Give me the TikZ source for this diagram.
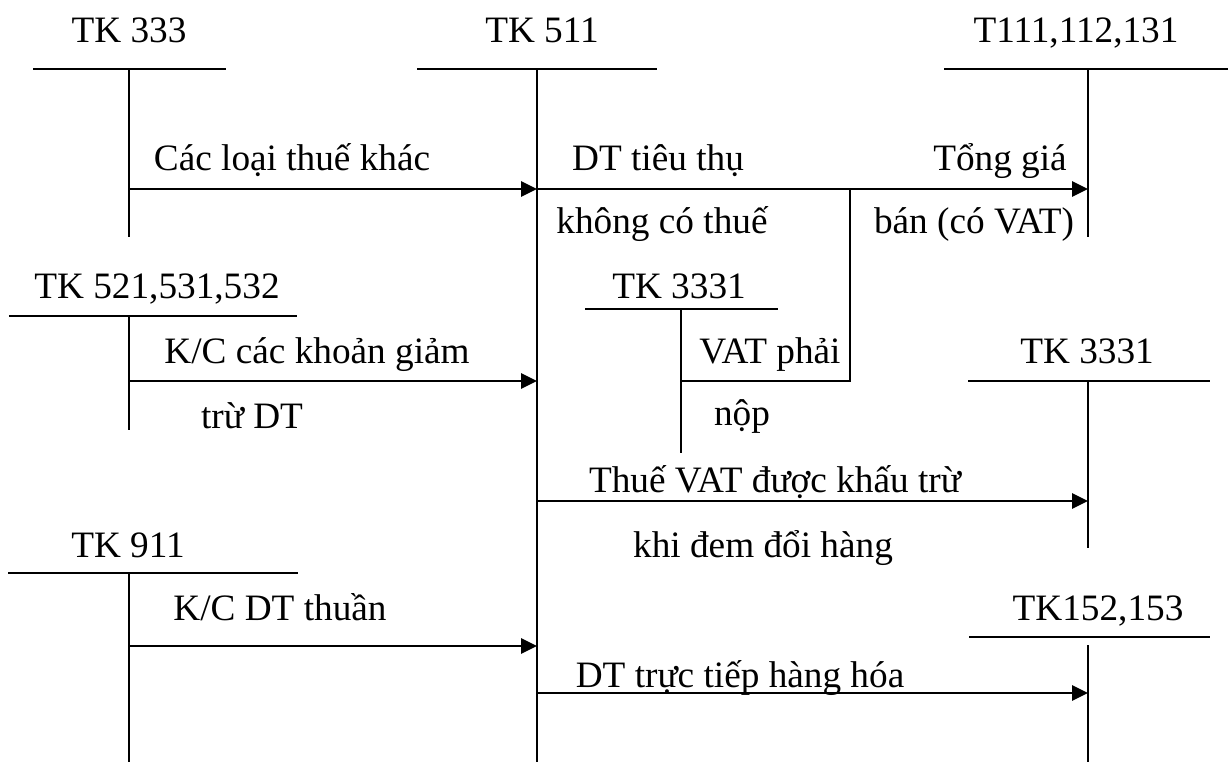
\documentclass[tikz,border=0pt]{standalone}
\usepackage{fontspec}
\setmainfont{Liberation Serif}
\usetikzlibrary{arrows.meta}

\tikzset{
  txt/.style={anchor=base, inner sep=0pt, font=\rmfamily\fontsize{10.6}{12}\selectfont},
  tk/.style={line width=0.8pt},
  stem/.style={line width=0.5pt},
  arr/.style={line width=0.8pt, -{Triangle[length=0.16cm,width=0.15cm]}}
}

\begin{document}
\begin{tikzpicture}
\useasboundingbox (0,0) rectangle (12.28,-7.62);
% account columns (top of each T)
\coordinate (k333) at (1.29,-0.69);
\coordinate (k511) at (5.37,-0.69);
\coordinate (k111) at (10.88,-0.69);
\coordinate (k521) at (1.29,-3.16);
\coordinate (k3331a) at (6.81,-3.09);
\coordinate (k3331b) at (10.88,-3.81);
\coordinate (k911) at (1.29,-5.73);
\coordinate (k152) at (10.88,-6.37);
\coordinate (kvat) at (8.50,-3.81);
% rows of the entries
\coordinate (r1) at (0,-1.89);
\coordinate (r2) at (0,-3.81);
\coordinate (r3) at (0,-5.01);
\coordinate (r4) at (0,-6.46);
\coordinate (r5) at (0,-6.93);

% T accounts
\draw[tk] (0.33,-0.69) -- (2.26,-0.69);
\draw[stem] (k333) -- (1.29,-2.37);
\draw[tk] (4.17,-0.69) -- (6.57,-0.69);
\draw[stem] (k511) -- (5.37,-7.62);
\draw[tk] (9.44,-0.69) -- (12.28,-0.69);
\draw[stem] (k111) -- (10.88,-2.37);
\draw[tk] (0.09,-3.16) -- (2.97,-3.16);
\draw[stem] (k521) -- (1.29,-4.30);
\draw[tk] (5.85,-3.09) -- (7.78,-3.09);
\draw[stem] (k3331a) -- (6.81,-4.53);
\draw[tk] (9.68,-3.81) -- (12.10,-3.81);
\draw[stem] (k3331b) -- (10.88,-5.48);
\draw[tk] (0.08,-5.73) -- (2.98,-5.73);
\draw[stem] (k911) -- (1.29,-7.62);
\draw[tk] (9.69,-6.37) -- (12.10,-6.37);
\draw[stem] (10.88,-6.45) -- (10.88,-7.62);

% account names
\node[txt] (t333) at (1.29,-0.42) {TK 333};
\node[txt] (t511) at (5.42,-0.42) {TK 511};
\node[txt] (t111) at (10.76,-0.42) {T111,112,131};
\node[txt] (t521) at (1.57,-2.98) {TK 521,531,532};
\node[txt] (t3331a) at (6.79,-2.98) {TK 3331};
\node[txt] (t3331b) at (10.87,-3.63) {TK 3331};
\node[txt] (t911) at (1.28,-5.57) {TK 911};
\node[txt] (t152) at (10.98,-6.20) {TK152,153};

% entries
\draw[arr] (k333 |- r1) -- (k511 |- r1);
\draw[arr] (k511 |- r1) -- (k111 |- r1);
\draw[stem] (k3331a |- r2) -- (kvat) -- (kvat |- r1);
\draw[arr] (k521 |- r2) -- (k511 |- r2);
\draw[arr] (k511 |- r3) -- (k111 |- r3);
\draw[arr] (k911 |- r4) -- (k511 |- r4);
\draw[arr] (k511 |- r5) -- (k152 |- r5);

% entry labels
\node[txt] (l1) at (2.92,-1.70) {Các loại thuế khác};
\node[txt] (l2) at (6.58,-1.70) {DT tiêu thụ};
\node[txt] (l2b) at (6.62,-2.33) {không có thuế};
\node[txt] (l3) at (10.00,-1.70) {Tổng giá};
\node[txt] (l3b) at (9.74,-2.33) {bán (có VAT)};
\node[txt] (l4) at (3.17,-3.63) {K/C các khoản giảm};
\node[txt] (l4b) at (2.52,-4.28) {trừ DT};
\node[txt] (l5) at (7.70,-3.63) {VAT phải};
\node[txt] (l5b) at (7.42,-4.25) {nộp};
\node[txt] (l6) at (7.75,-4.92) {Thuế VAT được khấu trừ};
\node[txt] (l6b) at (7.63,-5.57) {khi đem đổi hàng};
\node[txt] (l7) at (2.80,-6.20) {K/C DT thuần};
\node[txt] (l8) at (7.40,-6.87) {DT trực tiếp hàng hóa};
\end{tikzpicture}
\end{document}
